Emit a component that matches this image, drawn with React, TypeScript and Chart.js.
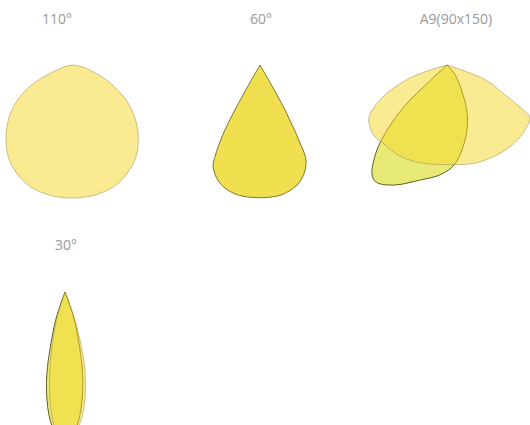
import React, { useEffect, useRef } from "react";
import { Chart, registerables } from "chart.js";

Chart.register(...registerables);

// ---- Data (angles in degrees from the downward beam axis, + to the right; relative intensity) ----
const beamTitles = ["110°", "60°", "A9(90x150)", "30°"];

// 110° beam
const angles110 = [-90, -79.4, -72.6, -68.75, -65.3, -61.55, -57.3, -52.8, -48.2, -43.7, -39, -34.25, -29.1, -23.7, -18.2, -12.5, -6.3, 0, 6.1, 12.3, 18.2, 23.5, 28.7, 33.9, 38.7, 43.3, 47.9, 52.1, 56.6, 60.5, 64.7, 69, 73.3, 79.4, 90];
const intensity110 = [0, 8.1, 16.8, 29, 41.8, 54.6, 66.6, 77.8, 87.8, 96.9, 105.6, 113.7, 120.2, 125.6, 129.5, 131.6, 132.8, 133, 132.5, 131, 128.4, 124.3, 118.6, 112.1, 103.9, 94.8, 85, 74.8, 63.5, 51.7, 39.8, 27.9, 16.7, 8.1, 0];

// 60° beam
const angles60 = [-30.5, -29.9, -29.7, -29.4, -29.2, -28.8, -28.3, -27.4, -26.3, -25.1, -22.8, -19.7, -15.9, -11.4, -6.5, -2.2, 2.6, 8.3, 13, 17.1, 20.8, 23.8, 26, 26.8, 27.15, 27.9, 28.4, 29.2, 29.4, 29.7, 29.9, 30.5];
const intensity60 = [0, 12.1, 24.2, 36.7, 49.2, 62.2, 74.9, 87.9, 100.4, 110.4, 117.2, 123.2, 127.9, 131.1, 132.4, 132.6, 132.6, 131.9, 129.3, 125.6, 119.8, 112.6, 104.6, 96.4, 87.7, 74.7, 62, 49.2, 36.7, 24.2, 12.1, 0];

// A9 (90x150) – wide plane
const anglesA9Wide = [-74.5, -73.7, -72.6, -70.9, -67.9, -65.4, -62.4, -59.3, -56.3, -51.2, -45, -40.2, -30.6, -23, -14.3, -5.7, 0, 8, 16, 24, 31, 38, 45.6, 52, 55, 57.8, 58.8, 60.1, 61.7, 63.4, 66.5, 69.4, 70.5, 71.6, 72];
const intensityA9Wide = [0, 12.5, 25.1, 38.1, 51.8, 63.8, 75.6, 86.1, 93.7, 98.9, 101.8, 101, 102.2, 102.2, 101.1, 100, 99.5, 100.5, 102, 102.5, 103, 103, 102.5, 101, 100, 97.5, 93.6, 84.2, 72.7, 61.5, 50.2, 38.4, 25.5, 12.6, 0];

// A9 (90x150) – narrow plane
const anglesA9Narrow = [-48, -47.7, -47, -46.7, -45.6, -43.5, -41.6, -39.5, -36.8, -34.8, -32.4, -29.8, -25.8, -21.5, -16.7, -10.9, -5.1, 0, 3.4, 6.7, 10, 13.5, 17.4, 21.1, 24.9, 28.1, 33.7, 41.2, 50];
const intensityA9Narrow = [0, 14.9, 30.1, 46.7, 62.9, 81.3, 96.3, 110.1, 123.6, 131.5, 136.2, 136.6, 133.3, 128.4, 122.1, 116.1, 111.4, 106, 101.2, 94.6, 86.3, 77.1, 67.1, 56.8, 45.2, 34, 21.6, 10.6, 0];

// 30° beam – plane A
const angles30A = [-20.5, -19.65, -18.4, -16.1, -14.5, -13.4, -12.15, -10.7, -9.2, -7.7, -6.1, -4.3, -2.2, 0, 2, 3.9, 5.6, 7.2, 8.7, 10.3, 11.8, 13.2, 14.45, 16.1, 18.4, 19.65, 20.5];
const intensity30A = [0, 14.9, 29.5, 45.8, 61, 74, 86.9, 99.7, 111.4, 122.1, 131.7, 139.4, 145.1, 147, 145.1, 139.3, 131.6, 122, 111.3, 99.6, 86.8, 74, 60.9, 45.8, 29.5, 14.9, 0];

// 30° beam – plane B
const angles30B = [-18.5, -17.8, -16.9, -14.6, -12.9, -11.6, -10.3, -8.9, -7.7, -6.4, -5.1, -3.7, -1.8, 0.6, 2.4, 4.5, 6.5, 8.4, 10.1, 11.8, 13.4, 15, 16.3, 17.7, 19.65, 20.7, 21.5];
const intensity30B = [0, 14.7, 29.3, 45.5, 60.5, 73.5, 86.4, 99.2, 111, 121.8, 131.5, 139.3, 145.1, 147, 145.1, 139.4, 131.9, 122.3, 111.7, 100.1, 87.4, 74.5, 61.5, 46.2, 29.7, 15, 0];

// ---- Styles ----
const PALE_FILL = "rgba(245,215,40,0.5)";
const PALE_BORDER = "rgba(170,150,80,0.6)";
const GREEN_FILL = "rgb(232,234,120)";
const GREEN_BORDER = "rgb(95,90,30)";
const YELLOW_FILL = "rgb(240,224,80)";
const YELLOW_BORDER = "rgb(125,115,45)";

type Series = { angles: number[]; values: number[]; fill: string; border: string };
type Panel = { title: string; apexX: number; apexY: number; titleX: number; titleY: number; series: Series[] };

const panels: Panel[] = [
  {
    title: beamTitles[0], apexX: 73, apexY: 65, titleX: 57, titleY: 9,
    series: [{ angles: angles110, values: intensity110, fill: PALE_FILL, border: PALE_BORDER }],
  },
  {
    title: beamTitles[1], apexX: 260, apexY: 65, titleX: 261, titleY: 9,
    series: [{ angles: angles60, values: intensity60, fill: YELLOW_FILL, border: YELLOW_BORDER }],
  },
  {
    title: beamTitles[2], apexX: 447, apexY: 65, titleX: 456, titleY: 9,
    series: [
      { angles: anglesA9Wide, values: intensityA9Wide, fill: PALE_FILL, border: PALE_BORDER },
      { angles: anglesA9Narrow, values: intensityA9Narrow, fill: GREEN_FILL, border: GREEN_BORDER },
    ],
  },
  {
    title: beamTitles[3], apexX: 65, apexY: 292, titleX: 66, titleY: 235,
    series: [
      { angles: angles30B, values: intensity30B, fill: PALE_FILL, border: PALE_BORDER },
      { angles: angles30A, values: intensity30A, fill: GREEN_FILL, border: GREEN_BORDER },
    ],
  },
];

const W = 180;
const H = 170;
const OX = 90;
const OY = 10;

const toPoints = (angles: number[], values: number[]) =>
  angles.map((a, i) => {
    const t = (a * Math.PI) / 180;
    return { x: values[i] * Math.sin(t), y: -values[i] * Math.cos(t) };
  });

function BeamPanel({ panel }: { panel: Panel }) {
  const ref = useRef<HTMLCanvasElement>(null);
  useEffect(() => {
    if (!ref.current) return;
    const chart = new Chart(ref.current, {
      type: "scatter",
      data: {
        datasets: panel.series.map((s) => ({
          data: toPoints(s.angles, s.values),
          showLine: true,
          fill: "shape",
          backgroundColor: s.fill,
          borderColor: s.border,
          borderWidth: 1,
          pointRadius: 0,
          pointHoverRadius: 0,
          tension: 0.4,
          cubicInterpolationMode: "default",
        })),
      } as any,
      options: {
        animation: false,
        responsive: false,
        events: [],
        layout: { padding: 0 },
        elements: { line: { tension: 0.4 } },
        plugins: { legend: { display: false }, tooltip: { enabled: false }, title: { display: false } },
        scales: {
          x: { type: "linear", display: false, min: -OX, max: W - OX },
          y: { type: "linear", display: false, min: -(H - OY), max: OY },
        },
      } as any,
    });
    return () => chart.destroy();
  }, [panel]);
  return (
    <canvas
      ref={ref}
      width={W}
      height={H}
      style={{ position: "absolute", left: panel.apexX - OX, top: panel.apexY - OY, width: W, height: H }}
    />
  );
}

export default function App() {
  return (
    <div
      style={{
        position: "absolute",
        left: 0,
        top: 0,
        width: 530,
        height: 425,
        overflow: "hidden",
        background: "#fff",
      }}
    >
      {panels.map((p, i) => (
        <BeamPanel key={"c" + i} panel={p} />
      ))}
      {panels.map((p, i) => (
        <div
          key={"t" + i}
          style={{
            position: "absolute",
            left: p.titleX - 60,
            top: p.titleY,
            width: 120,
            textAlign: "center",
            font: '14px "Open Sans", sans-serif',
            lineHeight: "20px",
            color: "#999",
            whiteSpace: "nowrap",
          }}
        >
          {p.title}
        </div>
      ))}
    </div>
  );
}
